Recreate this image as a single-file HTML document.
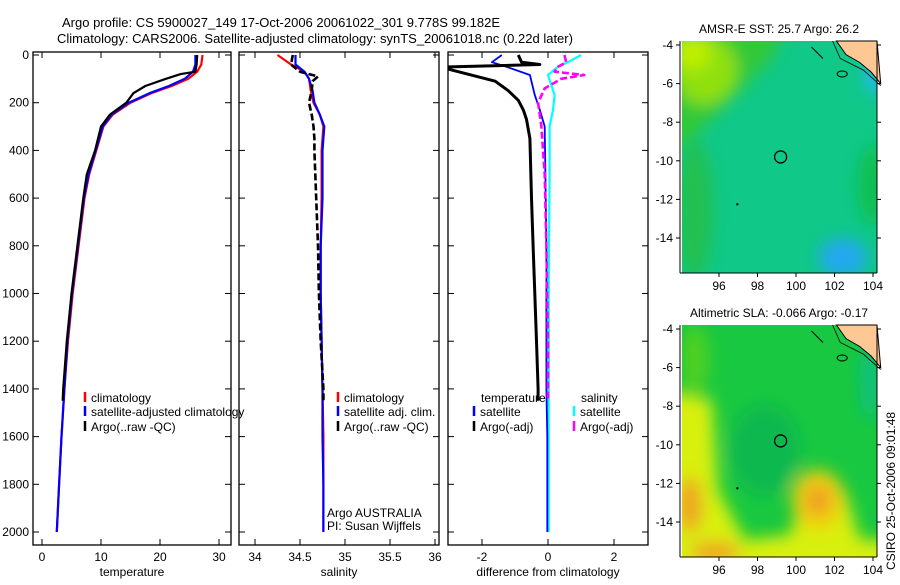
<!DOCTYPE html>
<html><head><meta charset="utf-8"><style>
body{margin:0;background:#fff;font-family:"Liberation Sans",sans-serif}
svg text{font-family:"Liberation Sans",sans-serif;font-size:12px;fill:#000}
</style></head><body>
<svg id="c" width="900" height="580" xmlns="http://www.w3.org/2000/svg">
<defs>
<filter id="blur" x="-20%" y="-20%" width="140%" height="140%"><feGaussianBlur stdDeviation="8"/></filter>
<clipPath id="clip1"><rect x="682" y="41" width="195" height="232"/></clipPath>
<clipPath id="clip2"><rect x="682" y="325" width="195" height="232"/></clipPath>
</defs>
<text x="62" y="27" style="font-size:13px">Argo profile: CS 5900027_149 17-Oct-2006 20061022_301 9.778S 99.182E</text>
<text x="57" y="43" style="font-size:13px">Climatology: CARS2006. Satellite-adjusted climatology: synTS_20061018.nc (0.22d later)</text>
<g clip-path="url(#clip1)">
<rect x="682" y="41" width="195" height="232" fill="#10c888"/>
<g filter="url(#blur)">
<path d="M640,0 L800,0 L770,60 L720,110 L690,140 L640,160 Z" fill="#30c838"/>
<ellipse cx="705" cy="70" rx="32" ry="35" fill="#90e010"/>
<ellipse cx="692" cy="52" rx="18" ry="18" fill="#c0f000"/>
<ellipse cx="695" cy="210" rx="18" ry="70" fill="#20c050"/>
<ellipse cx="872" cy="185" rx="14" ry="40" fill="#10c050"/>
<ellipse cx="843" cy="258" rx="24" ry="20" fill="#20a8f0"/>
<ellipse cx="875" cy="75" rx="10" ry="20" fill="#20b8f0"/>
</g>
</g>
<g clip-path="url(#clip2)">
<rect x="682" y="325" width="195" height="232" fill="#18c840"/>
<g filter="url(#blur)">
<path d="M660,390 L712,400 L718,490 L745,540 L790,535 L800,500 L820,485 L845,490 L860,540 L900,540 L900,590 L660,590 Z" fill="#d8f010"/>
<ellipse cx="818" cy="500" rx="26" ry="30" fill="#f0d010"/>
<ellipse cx="818" cy="500" rx="13" ry="16" fill="#f0a020"/>
<ellipse cx="690" cy="505" rx="12" ry="28" fill="#f0a020"/>
<ellipse cx="715" cy="552" rx="25" ry="10" fill="#f0a020"/>
<ellipse cx="870" cy="380" rx="10" ry="40" fill="#10c080"/>
<ellipse cx="765" cy="450" rx="35" ry="45" fill="#10b850"/>
<ellipse cx="695" cy="360" rx="14" ry="35" fill="#50d020"/>
</g>
</g>
<g id="plots"></g>
</svg>
<script>
// ---- data ----
const depthT=[0,40,70,100,130,160,200,250,300,400,500,600,800,1000,1200,1400,1600,1800,2000];
const tempClim=[27.2,27.0,26.3,24.8,22.0,18.5,15.0,12.0,10.4,9.2,8.0,7.2,6.2,5.2,4.4,3.8,3.3,2.9,2.5];
const tempSat=[26.0,26.0,25.6,24.2,21.5,18.2,14.7,11.8,10.3,9.1,7.9,7.1,6.1,5.1,4.3,3.8,3.3,2.9,2.5];
const depthA=[0,40,70,80,100,130,160,200,250,300,400,500,600,800,1000,1200,1400,1450];
const tempArgo=[26.3,26.2,26.0,23.5,21.0,17.5,15.5,14.3,11.5,10.0,9.0,7.6,7.0,6.0,5.0,4.2,3.6,3.5];
const depthS=[0,40,70,100,150,200,250,300,350,400,600,800,1000,1200,1400,1600,1800,2000];
const salClim=[34.25,34.4,34.55,34.6,34.62,34.65,34.72,34.76,34.75,34.74,34.74,34.73,34.73,34.74,34.75,34.76,34.76,34.76];
const salSat=[34.45,34.45,34.55,34.6,34.64,34.66,34.72,34.77,34.76,34.75,34.75,34.73,34.73,34.74,34.75,34.75,34.76,34.76];
const depthSA=[0,40,70,90,110,150,200,250,300,350,400,600,800,1000,1200,1400,1450];
const salArgo=[34.42,34.4,34.5,34.7,34.64,34.63,34.6,34.63,34.65,34.66,34.66,34.68,34.7,34.71,34.73,34.76,34.76];
const depthDT=[0,30,40,50,60,110,150,190,230,270,350,600,800,1000,1200,1400,1450];
const difTArgo=[-0.9,-0.8,-0.25,-3.2,-3.2,-1.6,-1.2,-0.9,-0.75,-0.65,-0.55,-0.5,-0.45,-0.4,-0.35,-0.3,-0.3];
const depthDS=[0,30,50,70,84,100,140,200,300,500,800,1200,1450];
const difSArgo=[0.5,0.55,0.3,0.2,1.1,0.4,-0.1,-0.3,-0.2,-0.1,-0.05,0.0,0.0];
const depthSat=[0,30,50,84,168,230,300,500,800,1000,1400,1600,2000];
const difTSat=[-1.4,-1.7,-1.25,-0.55,-0.4,-0.25,-0.1,-0.08,-0.05,-0.05,-0.05,-0.02,-0.02];
const difSSat=[1.0,0.6,0.3,0.0,0.2,0.15,0.05,0.05,0.03,0.02,0.02,0.02,0.02];
const depthTicks=[0,200,400,600,800,1000,1200,1400,1600,1800,2000];
const tTicks=[0,10,20,30], sTicks=[34,34.5,35,35.5,36], dTicks=[-2,0,2];
const latTicks=[-4,-6,-8,-10,-12,-14], lonTicks=[96,98,100,102,104];
// ---- drawing ----
const NS='http://www.w3.org/2000/svg', G=document.getElementById('plots');
function el(t,a,p){const e=document.createElementNS(NS,t);for(const k in a)e.setAttribute(k,a[k]);(p||G).appendChild(e);return e;}
const Y=d=>55+d*0.2385;
function line(xs,ds,fx,col,name,dash,w){
 const pts=xs.map((v,i)=>fx(v).toFixed(1)+','+Y(ds[i]).toFixed(1)).join(' ');
 const e=el('polyline',{points:pts,fill:'none',stroke:col,'stroke-width':w||2.2,'stroke-linejoin':'round'});
 if(dash)e.setAttribute('stroke-dasharray',dash);
 
 
}
function panel(x0,x1,fx,ticks,lab,name){
 const g=el('g',{});
 
 
 el('rect',{x:x0,y:52,width:x1-x0,height:493,fill:'none',stroke:'#000','stroke-width':1.3},g);
 ticks.forEach(t=>{const x=fx(t);el('line',{x1:x,x2:x,y1:545,y2:539,stroke:'#000'},g);el('line',{x1:x,x2:x,y1:52,y2:58,stroke:'#000'},g);
  const tx=el('text',{x:x,y:561,'text-anchor':'middle'},g);tx.textContent=t;});
 depthTicks.forEach(d=>{el('line',{x1:x0,x2:x0+6,y1:Y(d),y2:Y(d),stroke:'#000'},g);el('line',{x1:x1,x2:x1-6,y1:Y(d),y2:Y(d),stroke:'#000'},g);});
 const l=el('text',{x:(x0+x1)/2,y:576,'text-anchor':'middle'},g);l.textContent=lab;
 
 return g;
}
const fT=v=>42+v*5.9, fS=v=>255+(v-34)*90, fD=v=>Math.max(449,548+v*33);
panel(33,231,fT,tTicks,'temperature','temperature-panel');
depthTicks.forEach(d=>{const t=el('text',{x:29,y:Y(d)+4,'text-anchor':'end'});t.textContent=d;
 });
panel(239,439,fS,sTicks,'salinity','salinity-panel');
panel(448,648,fD,dTicks,'difference from climatology','difference-panel');
line(tempClim,depthT,fT,'#f00','temp-climatology-line');
line(tempSat,depthT,fT,'#00f','temp-satellite-line');
line(tempArgo,depthA,fT,'#000','temp-argo-line');
line(salClim,depthS,fS,'#f00','sal-climatology-line');
line(salSat,depthS,fS,'#00f','sal-satellite-line');
line(salArgo,depthSA,fS,'#000','sal-argo-line','7,3',2.6);
line(difSSat,depthSat,fD,'#0ff','diff-sal-satellite-line');
line(difTSat,depthSat,fD,'#00f','diff-temp-satellite-line',null,1.8);
line(difTArgo,depthDT,fD,'#000','diff-temp-argo-line',null,3);
line(difSArgo,depthDS,fD,'#f0f','diff-sal-argo-line','7,3',2.6);
function leg(x,y,col,txt,name){el('line',{x1:x,x2:x,y1:y-10,y2:y,stroke:col,'stroke-width':2.5});
 const t=el('text',{x:x+6,y:y});t.textContent=txt;}
leg(85,402,'#f00','climatology','legend-climatology');
leg(85,416,'#00f','satellite-adjusted climatology','legend-satellite-adjusted');
leg(85,431,'#000','Argo(..raw -QC)','legend-argo');
leg(338,402,'#f00','climatology','legend-sal-climatology');
leg(338,416,'#00f','satellite adj. clim.','legend-sal-satellite');
leg(338,431,'#000','Argo(..raw -QC)','legend-sal-argo');
let t=el('text',{x:481,y:402});t.textContent='temperature';
t=el('text',{x:581,y:402});t.textContent='salinity';
leg(474,416,'#00f','satellite','legend-diff-temp-sat');
leg(474,431,'#000','Argo(-adj)','legend-diff-temp-argo');
leg(574,416,'#0ff','satellite','legend-diff-sal-sat');
leg(574,431,'#f0f','Argo(-adj)','legend-diff-sal-argo');
t=el('text',{x:327,y:517});t.textContent='Argo AUSTRALIA';
t=el('text',{x:327,y:530});t.textContent='PI: Susan Wijffels';
t=el('text',{x:0,y:0,transform:'translate(895,570) rotate(-90)'});t.textContent='CSIRO 25-Oct-2006 09:01:48';

// maps
function map(top,title,name){
 const g=el('g',{});
 const lat=v=>top+4+(-4-v)*19.3, lon=v=>719+(v-96)*19.25;
 const tt=el('text',{x:779,y:top-8,'text-anchor':'middle'},g);tt.textContent=title;
 el('path',{d:`M${lon(102.1)},${top} L${lon(102.6)},${lat(-4.5)} L${lon(103.3)},${lat(-4.9)} L${lon(103.9)},${lat(-5.4)} L${lon(104.4)},${lat(-6)} L877,${top} Z`,fill:'#fec895',stroke:'#000'},g);
 el('path',{d:`M${lon(101.9)},${top} L${lon(102.3)},${lat(-4.7)} L${lon(103.5)},${lat(-5.3)} L${lon(104.4)},${lat(-6.1)}`,fill:'none',stroke:'#000','stroke-width':0.8},g);
 el('ellipse',{cx:lon(102.4),cy:lat(-5.5),rx:5,ry:3,fill:'none',stroke:'#000'},g);
 el('path',{d:`M${lon(100.8)},${lat(-4.1)} L${lon(101.4)},${lat(-4.7)} L${lon(101)},${lat(-4.3)}Z`,fill:'none',stroke:'#000'},g);
 el('circle',{cx:lon(99.2),cy:lat(-9.8),r:6,fill:'none',stroke:'#000','stroke-width':1.3},g);
 el('rect',{x:lon(96.9),y:lat(-12.2),width:2,height:2,fill:'#000'},g);
 el('line',{x1:680,x2:680,y1:top,y2:top+232,stroke:'#000'},g);
 el('line',{x1:877,x2:877,y1:top,y2:top+232,stroke:'#000'},g);
 el('line',{x1:680,x2:877,y1:top+232,y2:top+232,stroke:'#000'},g);
 latTicks.forEach(v=>{el('line',{x1:676,x2:680,y1:lat(v),y2:lat(v),stroke:'#000'},g);el('line',{x1:877,x2:881,y1:lat(v),y2:lat(v),stroke:'#000'},g);
  const x=el('text',{x:673,y:lat(v)+4,'text-anchor':'end'},g);x.textContent=v;});
 lonTicks.forEach(v=>{el('line',{x1:lon(v),x2:lon(v),y1:top+232,y2:top+236,stroke:'#000'},g);
  const x=el('text',{x:lon(v),y:top+249,'text-anchor':'middle'},g);x.textContent=v;});
}
map(41,'AMSR-E SST: 25.7 Argo: 26.2','sst-map');
map(325,'Altimetric SLA: -0.066 Argo: -0.17','sla-map');
</script>
</body></html>
